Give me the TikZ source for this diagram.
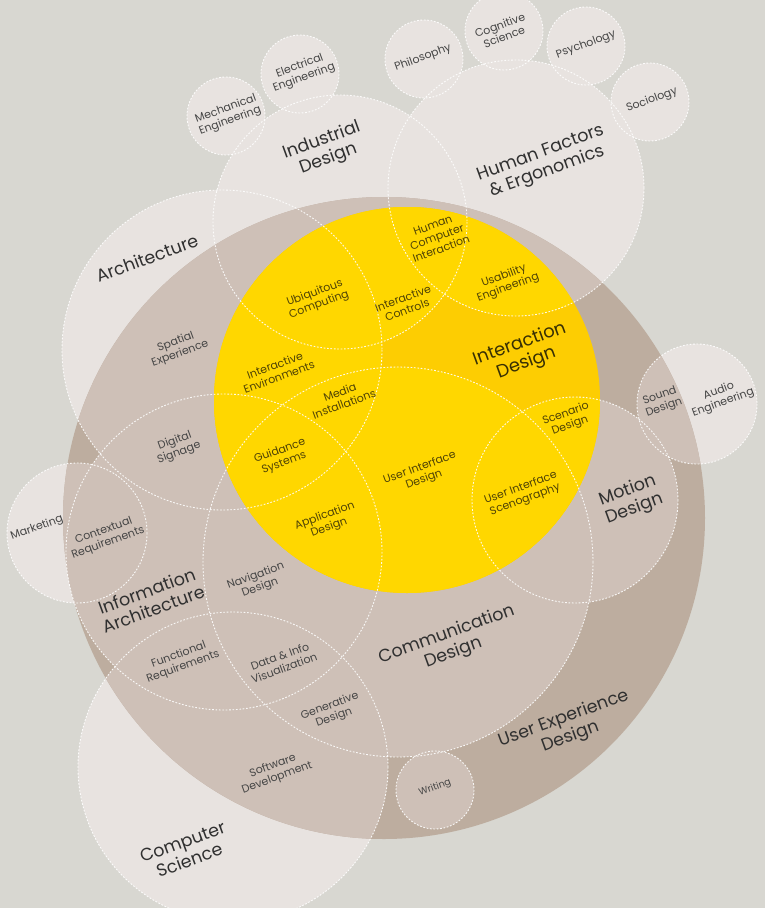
\documentclass[tikz,border=0pt]{standalone}
\usepackage{fontspec}
\setmainfont{Poppins}
\definecolor{bg}{HTML}{D8D7D1}
\definecolor{lite}{HTML}{E8E3E0}
\definecolor{uxdark}{HTML}{BDAD9F}
\definecolor{uxlite}{HTML}{CEC0B7}
\definecolor{ylw}{HTML}{FFD700}
\definecolor{orng}{HTML}{FDCD02}
\definecolor{txt}{HTML}{303030}
\definecolor{stxt}{HTML}{454545}
\definecolor{ytxt}{HTML}{4F4306}
\begin{document}
\begin{tikzpicture}[x=1pt,y=-1pt,
  outline/.style={draw=white, line width=0.9pt, dash pattern=on 1.7pt off 1.7pt, opacity=0.9},
  lbl/.style={align=center, rotate=20, inner sep=0pt, text=txt},
  bigl/.style={lbl, font=\fontsize{17.5}{19.5}\selectfont},
  midl/.style={lbl, font=\fontsize{11}{12.5}\selectfont, text=stxt},
  yell/.style={lbl, font=\fontsize{11}{12.5}\selectfont, text=ytxt},
  ybig/.style={lbl, font=\fontsize{18}{20}\selectfont, text=ytxt!70!black}]
\useasboundingbox (0,0) rectangle (765,908);
\clip (0,0) rectangle (765,908);
\fill[bg] (0,0) rectangle (765,908);
\def\circlist{340/222/127, 516/188/128, 222/350/160, 224/552/158, 398/562/195,
  575/500/103, 233/767/155, 697/404/60, 77/533/70, 435/790/39,
  226/116/39, 300/74/39, 424/59/39, 504/31/39, 586/46/39, 650/102/39}
% outer layer of discipline circles
\foreach \cx/\cy/\r in \circlist { \fill[lite] (\cx,\cy) circle (\r); }
% User Experience Design
\fill[uxdark] (384,518) circle (321);
\begin{scope}
  \clip (384,518) circle (321);
  \foreach \cx/\cy/\r in \circlist { \fill[uxlite] (\cx,\cy) circle (\r); }
\end{scope}
% Interaction Design
\fill[orng] (407,400) circle (193);
\begin{scope}
  \clip (407,400) circle (193);
  \foreach \cx/\cy/\r in \circlist { \fill[ylw] (\cx,\cy) circle (\r); }
\end{scope}
% dashed outlines
\foreach \cx/\cy/\r in \circlist { \draw[outline] (\cx,\cy) circle (\r); }

% labels
\node[midl] (mech) at (228,115) {Mechanical\\Engineering};
\node[midl] (elec) at (302,72) {Electrical\\Engineering};
\node[midl] (phil) at (423,58) {Philosophy};
\node[midl] (cogn) at (502,31) {Cognitive\\Science};
\node[midl] (psy) at (586,45) {Psychology};
\node[midl] (soc) at (652,100) {Sociology};
\node[bigl] (ind) at (325,150) {Industrial\\Design};
\node[bigl] (hf) at (544,163) {Human Factors\\\&\ Ergonomics};
\node[bigl] (arch) at (147,258) {Architecture};
\node[yell] (hci) at (437,237) {Human\\Computer\\Interaction};
\node[yell] (use) at (506,282) {Usability\\Engineering};
\node[yell] (ubi) at (317,299) {Ubiquitous\\Computing};
\node[yell] (ictl) at (405,304) {Interactive\\Controls};
\node[midl] (spat) at (178,348) {Spatial\\Experience};
\node[yell] (ienv) at (277,371) {Interactive\\Environments};
\node[yell] (media) at (342,398) {Media\\Installations};
\node[ybig] (ixd) at (523,354) {Interaction\\Design};
\node[midl] (dsig) at (177,447) {Digital\\Signage};
\node[yell] (guid) at (282,457) {Guidance\\Systems};
\node[yell] (scen) at (568,420) {Scenario\\Design};
\node[midl] (snd) at (662,402) {Sound\\Design};
\node[midl] (audio) at (721,397) {Audio\\Engineering};
\node[yell] (uid) at (422,474) {User Interface\\Design};
\node[yell] (uis) at (523,494) {User Interface\\Scenography};
\node[bigl] (mot) at (631,500) {Motion\\Design};
\node[midl] (mkt) at (37,528) {Marketing};
\node[midl] (ctx) at (106,537) {Contextual\\Requirements};
\node[yell] (app) at (327,522) {Application\\Design};
\node[midl] (nav) at (258,582) {Navigation\\Design};
\node[bigl] (ia) at (150,600) {Information\\Architecture};
\node[midl] (func) at (181,661) {Functional\\Requirements};
\node[midl] (data) at (282,662) {Data \& Info\\Visualization};
\node[bigl] (comm) at (450,644) {Communication\\Design};
\node[midl] (gen) at (332,712) {Generative\\Design};
\node[bigl] (ux) at (567,728) {User Experience\\Design};
\node[midl] (soft) at (275,772) {Software\\Development};
\node[midl, font=\fontsize{9.5}{11}\selectfont] (wri) at (435,788) {Writing};
\node[bigl] (cs) at (186,851) {Computer\\Science};
\end{tikzpicture}
\end{document}
